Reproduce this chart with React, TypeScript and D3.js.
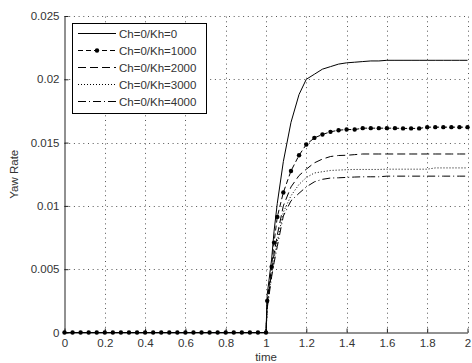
import React, { useRef, useEffect } from 'react';
import * as d3 from 'd3';

// time samples (solver output, shared by all series)
const time = [
  0, 0.04, 0.08, 0.12, 0.16, 0.2, 0.24, 0.28, 0.32, 0.36, 0.4, 0.44, 0.48, 0.52,
  0.56, 0.6, 0.64, 0.68, 0.72, 0.76, 0.8, 0.84, 0.88, 0.92, 0.96, 1.0,
  1.006, 1.028, 1.04, 1.056, 1.086, 1.124, 1.164, 1.2, 1.24, 1.28, 1.32, 1.36,
  1.4, 1.44, 1.48, 1.52, 1.56, 1.6, 1.64, 1.68, 1.72, 1.76, 1.8, 1.84, 1.88,
  1.92, 1.96, 2.0,
];

const zeros = new Array(26).fill(0);

const kh0 = [
  ...zeros,
  0.003, 0.0058, 0.008, 0.0102, 0.0135, 0.0166, 0.0188, 0.02, 0.0204, 0.0208,
  0.021, 0.0212, 0.0213, 0.02135, 0.0214, 0.02145, 0.02145, 0.0215, 0.0215,
  0.0215, 0.0215, 0.0215, 0.0215, 0.0215, 0.0215, 0.0215, 0.0215, 0.0215,
];
const kh1000 = [
  ...zeros,
  0.0025, 0.0052, 0.0071, 0.00913, 0.01106, 0.01276, 0.014, 0.01485, 0.01537,
  0.01564, 0.01585, 0.01598, 0.01603, 0.01603, 0.01614, 0.01614, 0.01614,
  0.01614, 0.01614, 0.01612, 0.01612, 0.01612, 0.01622, 0.01622, 0.01622,
  0.01622, 0.01622, 0.01622,
];
const kh2000 = [
  ...zeros,
  0.0022, 0.0048, 0.0062, 0.0077, 0.01, 0.0115, 0.0124, 0.0129, 0.0134, 0.0137,
  0.0139, 0.01398, 0.014, 0.01405, 0.0141, 0.0141, 0.0141, 0.0141, 0.0141,
  0.0141, 0.0141, 0.0141, 0.0141, 0.0141, 0.0141, 0.0141, 0.0141, 0.0141,
];
const kh3000 = [
  ...zeros,
  0.002, 0.0046, 0.0058, 0.0072, 0.0095, 0.0108, 0.0117, 0.01224, 0.0126,
  0.0127, 0.0128, 0.01283, 0.01286, 0.01288, 0.01288, 0.01288, 0.01288, 0.0129,
  0.0129, 0.0129, 0.0129, 0.0129, 0.0129, 0.013, 0.013, 0.013, 0.013, 0.013,
];
const kh4000 = [
  ...zeros,
  0.0019, 0.0044, 0.0055, 0.0068, 0.0092, 0.0104, 0.011, 0.0115, 0.0119,
  0.0121, 0.0122, 0.01222, 0.01225, 0.01228, 0.0123, 0.0123, 0.0123, 0.01235,
  0.01235, 0.01235, 0.01235, 0.01235, 0.01235, 0.01235, 0.01235, 0.01235,
  0.01235, 0.01235,
];

const seriesNames = ['Ch=0/Kh=0', 'Ch=0/Kh=1000', 'Ch=0/Kh=2000', 'Ch=0/Kh=3000', 'Ch=0/Kh=4000'];
const seriesValues = [kh0, kh1000, kh2000, kh3000, kh4000];
const dashes = ['none', '5,3', '8,4', '1,2', '8,3,1,3'];

const xTicks = [0, 0.2, 0.4, 0.6, 0.8, 1, 1.2, 1.4, 1.6, 1.8, 2];
const yTicks = [0, 0.005, 0.01, 0.015, 0.02, 0.025];

const W = 472;
const H = 363;
const FONT = '"Liberation Sans", Arial, sans-serif';

const App: React.FC = () => {
  const svgRef = useRef<SVGSVGElement | null>(null);

  useEffect(() => {
    const svg = d3.select(svgRef.current);
    svg.selectAll('*').remove();

    const x = d3.scaleLinear().domain([0, 2]).range([64.5, 467.5]);
    const y = d3.scaleLinear().domain([0, 0.025]).range([332.5, 16]);

    svg.append('rect').attr('width', W).attr('height', H).attr('fill', '#fff');

    // grid (matlab ':' style)
    const grid = svg.append('g').attr('stroke', '#555').attr('stroke-width', 1).attr('stroke-dasharray', '1,3.7');
    xTicks.slice(1).forEach(t => {
      grid.append('line')
        .attr('x1', Math.round(x(t)) + 0.5).attr('x2', Math.round(x(t)) + 0.5)
        .attr('y1', y(0)).attr('y2', y(0.025));
    });
    yTicks.slice(1).forEach(t => {
      grid.append('line')
        .attr('x1', x(0)).attr('x2', x(2))
        .attr('y1', Math.round(y(t)) + 0.5).attr('y2', Math.round(y(t)) + 0.5);
    });

    // axes
    const xAxis = svg.append('g')
      .attr('transform', `translate(0,${y(0)})`)
      .call(d3.axisBottom(x).tickValues(xTicks).tickFormat(d => String(d)).tickSizeInner(-4).tickSizeOuter(0).tickPadding(6));
    const yAxis = svg.append('g')
      .attr('transform', `translate(${x(0)},0)`)
      .call(d3.axisLeft(y).tickValues(yTicks).tickFormat(d => String(d)).tickSizeInner(-4).tickSizeOuter(0).tickPadding(5));
    [xAxis, yAxis].forEach(a => {
      a.selectAll('path, line').attr('stroke', '#222');
      a.selectAll('text').attr('font-family', FONT).attr('font-size', 11.5).attr('fill', '#333');
    });

    // series
    const line = d3.line<number>().x((_, i) => x(time[i])).y(d => y(d));
    seriesValues.forEach((vals, k) => {
      svg.append('path')
        .datum(vals)
        .attr('fill', 'none')
        .attr('stroke', '#000')
        .attr('stroke-width', 1)
        .attr('stroke-dasharray', dashes[k])
        .attr('d', line);
      if (k === 1) {
        svg.append('g').selectAll('circle').data(vals).join('circle')
          .attr('cx', (_, i) => x(time[i]))
          .attr('cy', d => y(d))
          .attr('r', 2.2)
          .attr('fill', '#000');
      }
    });

    // labels
    svg.append('text')
      .attr('x', (x(0) + x(2)) / 2).attr('y', 361)
      .attr('text-anchor', 'middle')
      .attr('font-family', FONT).attr('font-size', 11.5).attr('fill', '#333')
      .text('time');
    svg.append('text')
      .attr('transform', `translate(18,${(y(0) + y(0.025)) / 2}) rotate(-90)`)
      .attr('text-anchor', 'middle')
      .attr('font-family', FONT).attr('font-size', 11.5).attr('fill', '#333')
      .text('Yaw Rate');

    // legend
    const lg = svg.append('g').attr('transform', 'translate(72,23)');
    lg.append('rect').attr('x', 0.5).attr('y', 0.5).attr('width', 134).attr('height', 90)
      .attr('fill', '#fff').attr('stroke', '#000');
    seriesNames.forEach((name, k) => {
      const yy = 10.5 + k * 17;
      lg.append('line')
        .attr('x1', 6).attr('x2', 44).attr('y1', yy).attr('y2', yy)
        .attr('stroke', '#000').attr('stroke-dasharray', dashes[k]);
      if (k === 1) lg.append('circle').attr('cx', 25).attr('cy', yy).attr('r', 2.2).attr('fill', '#000');
      lg.append('text')
        .attr('x', 47).attr('y', yy).attr('dy', '0.35em')
        .attr('font-family', FONT).attr('font-size', 11.5).attr('fill', '#333')
        .text(name);
    });
  }, []);

  return (
    <svg ref={svgRef} width={W} height={H} style={{ position: 'absolute', left: 0, top: 0 }} />
  );
};

export default App;
